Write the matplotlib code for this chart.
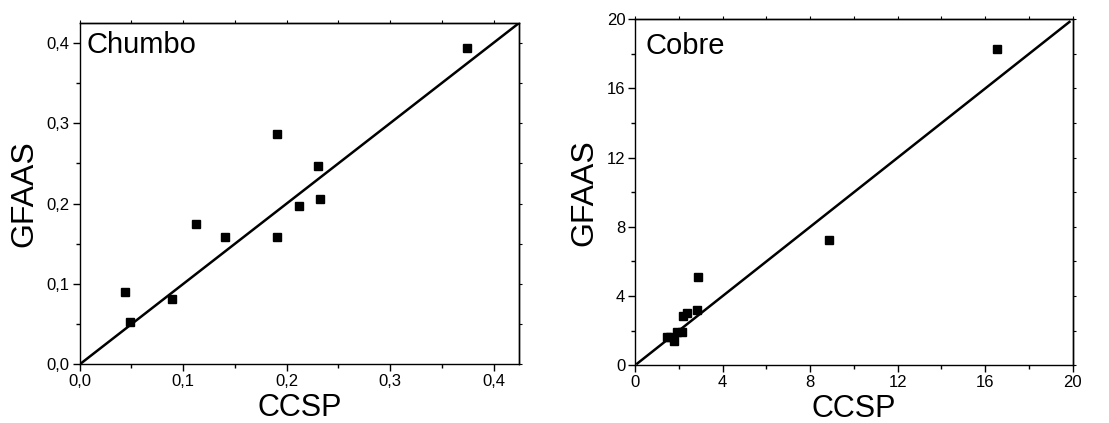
import matplotlib
matplotlib.use("Agg")
import matplotlib.pyplot as plt
from matplotlib.ticker import FixedLocator, FuncFormatter, NullFormatter

plt.rcParams['font.family'] = ['Liberation Sans', 'DejaVu Sans']

# Chumbo (lead)
pb_ccsp = [0.044, 0.049, 0.089, 0.113, 0.141, 0.191, 0.191, 0.212, 0.230, 0.232, 0.374]
pb_gfaas = [0.090, 0.053, 0.081, 0.175, 0.159, 0.286, 0.158, 0.197, 0.247, 0.206, 0.393]
pb_line = [0.0, 0.425]
pb_ticks = [0.0, 0.1, 0.2, 0.3, 0.4]
pb_minor = [0.05, 0.15, 0.25, 0.35]

# Cobre (copper)
cu_ccsp = [16.53, 8.88, 2.89, 2.83, 2.36, 2.18, 2.16, 1.93, 1.77, 1.48, 1.62]
cu_gfaas = [18.30, 7.22, 5.12, 3.22, 3.00, 2.85, 1.95, 1.95, 1.43, 1.64, 1.64]
cu_line = [0.1, 19.85]
cu_ticks = [0, 4, 8, 12, 16, 20]
cu_minor = [2, 6, 10, 14, 18]

fig = plt.figure(figsize=(11.09, 4.23), dpi=100)
ax1 = fig.add_axes([0.0717, 0.1383, 0.3967, 0.808])
ax2 = fig.add_axes([0.5726, 0.1364, 0.3947, 0.818])

def comma(v, pos):
    return ("%.1f" % v).replace(".", ",")

def style(ax, ticks, minor, lim, fmt):
    ax.set_xlim(*lim)
    ax.set_ylim(*lim)
    for axis in (ax.xaxis, ax.yaxis):
        axis.set_major_locator(FixedLocator(ticks))
        axis.set_minor_locator(FixedLocator(minor))
        axis.set_major_formatter(FuncFormatter(fmt))
    ax.tick_params(which='both', direction='out', labelsize=12,
                   width=1, colors='black', pad=2)
    ax.tick_params(which='major', length=5)
    ax.tick_params(which='minor', length=3)
    for s in ax.spines.values():
        s.set_linewidth(1)
    ax.set_xlabel("CCSP", fontsize=22, labelpad=3)
    ax.set_ylabel("GFAAS", fontsize=23, labelpad=5)
    for loc in ('top', 'right'):
        if loc == 'top':
            sec = ax.secondary_xaxis('top')
        else:
            sec = ax.secondary_yaxis('right')
        ax_ = sec.xaxis if loc == 'top' else sec.yaxis
        ax_.set_major_locator(FixedLocator(ticks))
        ax_.set_minor_locator(FixedLocator(minor))
        ax_.set_major_formatter(NullFormatter())
        sec.tick_params(which='both', direction='out', length=2, width=0.8)
        sec.spines[loc].set_linewidth(1)

ax1.plot(pb_line, pb_line, color='black', lw=1.8)
ax1.plot(pb_ccsp, pb_gfaas, 's', color='black', ms=6, clip_on=False)
style(ax1, pb_ticks, pb_minor, (0, 0.425), comma)
ax1.text(0.017, 0.976, "Chumbo", transform=ax1.transAxes, fontsize=21,
         va='top', ha='left')

ax2.plot(cu_line, cu_line, color='black', lw=1.8)
ax2.plot(cu_ccsp, cu_gfaas, 's', color='black', ms=6, clip_on=False)
style(ax2, cu_ticks, cu_minor, (0, 20), lambda v, p: "%d" % v)
ax2.text(0.023, 0.962, "Cobre", transform=ax2.transAxes, fontsize=21,
         va='top', ha='left')

fig.savefig("out.png", dpi=100)
